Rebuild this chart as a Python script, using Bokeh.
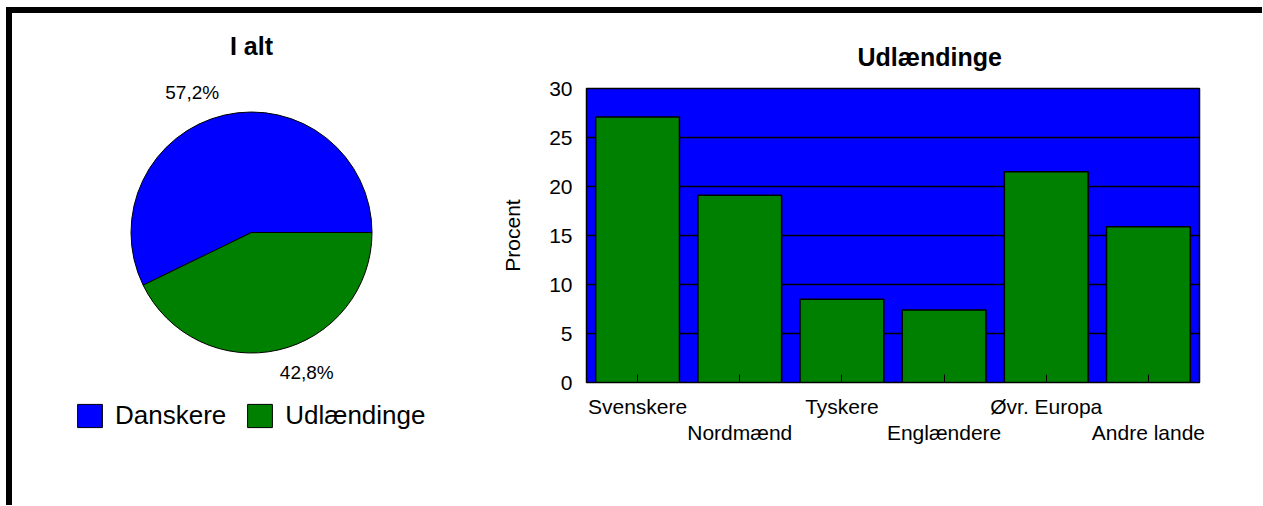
from bokeh.plotting import figure
from bokeh.models import (ColumnDataSource, Range1d, Legend, LegendItem, Label,
                          LinearAxis, FixedTicker, Title)
from bokeh.layouts import row, column
from bokeh.embed import file_html
from bokeh.resources import INLINE
import math

# ---------------- data ----------------
pie_labels = ["Danskere", "Udlændinge"]
pie_values = [57.2, 42.8]
pie_colors = ["#0000FF", "#008000"]

bar_categories = ["Svenskere", "Nordmænd", "Tyskere", "Englændere", "Øvr. Europa", "Andre lande"]
bar_values = [27.1, 19.1, 8.5, 7.4, 21.5, 15.9]
y_ticks = [0, 5, 10, 15, 20, 25, 30]

FONT = "Liberation Sans"

# ---------------- layout constants ----------------
H = 492
W1 = 484
CX, CY = 239, 219              # pie centre in canvas px
W2 = 766

# ---------------- pie figure ----------------
p1 = figure(width=W1, height=H, output_backend="svg", toolbar_location=None,
            x_range=Range1d(-CX, W1 - CX), y_range=Range1d(-(H - CY), CY),
            min_border=0, outline_line_color=None)
p1.axis.visible = False
p1.grid.visible = False

total = sum(pie_values)
starts, ends = [], []
acc = 0.0
for v in pie_values:
    starts.append(2 * math.pi * acc / total)
    acc += v
    ends.append(2 * math.pi * acc / total)

src = ColumnDataSource(dict(x=[0] * len(pie_values), y=[0] * len(pie_values),
                            start=starts, end=ends, color=pie_colors, label=pie_labels))
wr = p1.wedge(x="x", y="y", radius=120.5, start_angle="start", end_angle="end",
              fill_color="color", line_color="black", line_width=1, source=src)

# percentage labels (placed outside the slices)
label_shift = [(0, 0), (-4, 0)]
for (s, e, v), (dx, dy) in zip(zip(starts, ends, pie_values), label_shift):
    mid = (s + e) / 2 + math.radians(10)
    txt = f"{v:.1f}%".replace(".", ",")
    p1.add_layout(Label(x=152 * math.cos(mid) + dx, y=152 * math.sin(mid) + dy, text=txt,
                        text_align="center", text_baseline="middle",
                        text_font=FONT, text_font_size="19px", text_color="black"))

p1.add_layout(Label(x=0, y=187, text="I alt", text_align="center",
                    text_baseline="alphabetic", text_font=FONT,
                    text_font_size="25px", text_font_style="bold", text_color="black"))

legend = Legend(items=[LegendItem(label=lab, renderers=[wr], index=i)
                       for i, lab in enumerate(pie_labels)],
                orientation="horizontal", location=(62, 74), padding=0, margin=0,
                spacing=18, label_standoff=10, glyph_width=31, glyph_height=29,
                border_line_color=None, background_fill_alpha=0,
                label_text_font=FONT, label_text_font_size="26px",
                label_text_color="black")
p1.add_layout(legend)

# ---------------- bar figure ----------------
p2 = figure(width=W2, height=H, output_backend="svg", toolbar_location=None,
            x_range=Range1d(-0.5, len(bar_categories) - 0.5), y_range=Range1d(0, 30),
            min_border_left=90, min_border_right=W2 - 703, min_border_top=75,
            min_border_bottom=123, x_axis_location=None,
            background_fill_color="#0000FF", outline_line_color="black",
            outline_line_width=1.5)
p2.title = Title(text="Udlændinge", align="left", offset=271, standoff=36,
                 text_font=FONT, text_font_size="25px", text_font_style="bold",
                 text_color="black")

bsrc = ColumnDataSource(dict(x=list(range(len(bar_categories))), top=bar_values))
p2.vbar(x="x", top="top", width=0.82, bottom=0, source=bsrc,
        fill_color="#008000", line_color="black", line_width=1.5)

p2.xgrid.visible = False
p2.ygrid.ticker = FixedTicker(ticks=y_ticks)
p2.ygrid.grid_line_color = "black"
p2.ygrid.grid_line_width = 1.5
p2.ygrid.level = "underlay"

ya = p2.yaxis[0]
ya.ticker = FixedTicker(ticks=y_ticks)
ya.major_tick_in = 0
ya.major_tick_out = 0
ya.minor_tick_line_color = None
ya.axis_line_color = "black"
ya.major_label_standoff = 14
ya.major_label_text_font = FONT
ya.major_label_text_font_size = "21px"
ya.major_label_text_color = "black"
ya.axis_label = "Procent"
ya.axis_label_text_font = FONT
ya.axis_label_text_font_size = "21px"
ya.axis_label_text_font_style = "normal"
ya.axis_label_text_color = "black"
ya.axis_label_standoff = 22

idx = list(range(len(bar_categories)))
xa1 = LinearAxis(ticker=FixedTicker(ticks=idx),
                 major_label_overrides={i: (c if i % 2 == 0 else "") for i, c in enumerate(bar_categories)},
                 major_tick_in=8, major_tick_out=0, minor_tick_line_color=None,
                 axis_line_color="black", major_tick_line_color="black",
                 major_label_standoff=12, major_label_text_font=FONT,
                 major_label_text_font_size="21px", major_label_text_color="black")
xa2 = LinearAxis(ticker=FixedTicker(ticks=[i for i in idx if i % 2 == 1]),
                 major_label_overrides={i: c for i, c in enumerate(bar_categories) if i % 2 == 1},
                 major_tick_in=0, major_tick_out=0, minor_tick_line_color=None,
                 axis_line_color=None, major_tick_line_color=None,
                 major_label_standoff=0, major_label_text_font=FONT,
                 major_label_text_font_size="21px", major_label_text_color="black")
p2.add_layout(xa1, "below")
p2.add_layout(xa2, "below")

layout = row(column(p1), p2, styles={"border-top": "6px solid black", "border-left": "6px solid black",
                                     "margin-left": "6px", "margin-top": "7px"})

open("out.html", "w").write(file_html(layout, INLINE))
